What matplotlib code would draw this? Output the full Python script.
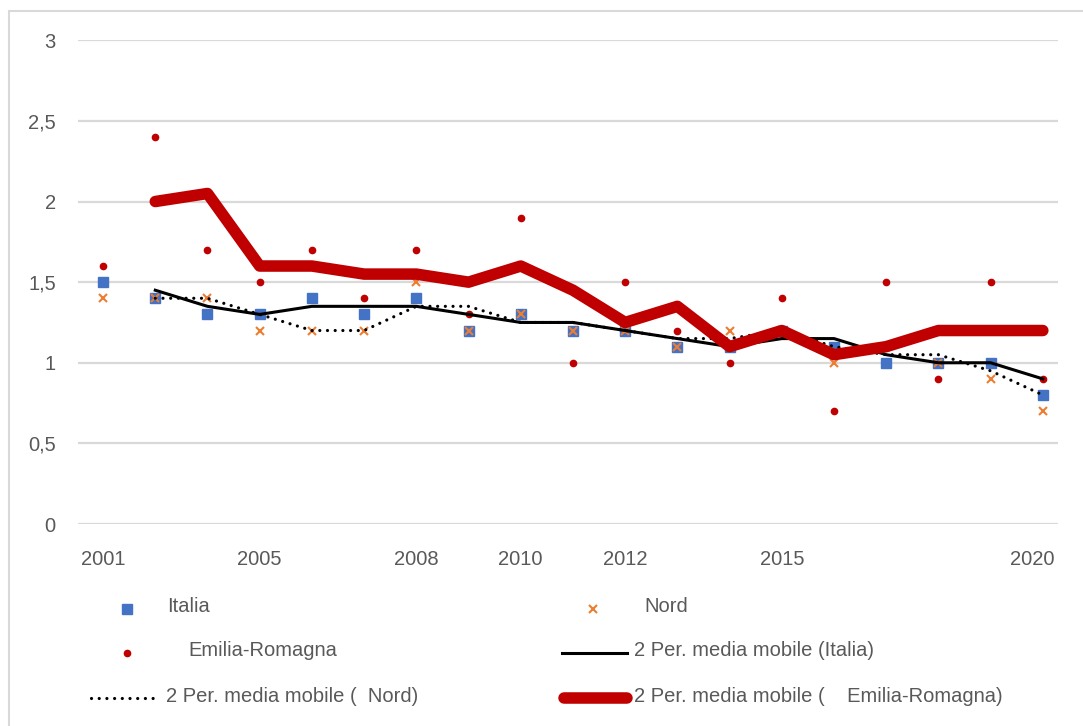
import matplotlib
matplotlib.use("Agg")
import matplotlib.pyplot as plt
from matplotlib.lines import Line2D
from matplotlib.patches import Rectangle
import matplotlib.transforms as mtransforms
import numpy as np

# Category labels along the x axis (one per observation)
year_labels = ["2001", "", "", "2005", "", "", "2008", "", "2010", "",
               "2012", "", "", "2015", "", "", "", "", "2020"]

italia = [1.5, 1.4, 1.3, 1.3, 1.4, 1.3, 1.4, 1.2, 1.3, 1.2,
          1.2, 1.1, 1.1, 1.2, 1.1, 1.0, 1.0, 1.0, 0.8]
nord = [1.4, 1.4, 1.4, 1.2, 1.2, 1.2, 1.5, 1.2, 1.3, 1.2,
        1.2, 1.1, 1.2, 1.2, 1.0, 1.1, 1.0, 0.9, 0.7]
emilia_romagna = [1.6, 2.4, 1.7, 1.5, 1.7, 1.4, 1.7, 1.3, 1.9, 1.0,
                  1.5, 1.2, 1.0, 1.4, 0.7, 1.5, 0.9, 1.5, 0.9]

y_ticks = [0, 0.5, 1, 1.5, 2, 2.5, 3]
y_tick_labels = ["0", "0,5", "1", "1,5", "2", "2,5", "3"]

legend_labels = ["Italia", "Nord", "Emilia-Romagna",
                 "2 Per. media mobile (Italia)",
                 "2 Per. media mobile (  Nord)",
                 "2 Per. media mobile (    Emilia-Romagna)"]

BLUE = "#4472C4"
ORANGE = "#ED7D31"
RED = "#C00000"
GRID = "#D9D9D9"
TEXT = "#595959"
FONT = "Liberation Sans"
FS = 14.5

W, H = 1083, 726
fig = plt.figure(figsize=(W / 100, H / 100), dpi=100)
fig.patch.set_facecolor("white")

def px(x, y):
    return x / W, 1 - y / H

# chart-area border (runs off the right and bottom edges)
fig.patches.append(Rectangle(px(9, 760), (1120 - 9) / W, (760 - 11) / H,
                             transform=fig.transFigure, fill=False,
                             edgecolor="#D9D9D9", linewidth=1.5, zorder=0))

left, right = 78, 1058
top, bottom = 40.3, 524
ax = fig.add_axes([left / W, 1 - bottom / H, (right - left) / W, (bottom - top) / H])
ax.set_facecolor("none")

x = np.arange(len(italia))


def moving_average(values):
    v = np.asarray(values, dtype=float)
    return x[1:], (v[1:] + v[:-1]) / 2


ax.plot(x, italia, linestyle="none", marker="s", markersize=6.5,
        color=BLUE, zorder=3)
ax.plot(x, nord, linestyle="none", marker="x", markersize=6,
        markeredgewidth=1.5, color=ORANGE, zorder=4)
ax.plot(x, emilia_romagna, linestyle="none", marker="o", markersize=4.5,
        color=RED, zorder=5)

mx, my = moving_average(italia)
ax.plot(mx, my, color="black", linewidth=2.2, zorder=6)
mx, my = moving_average(nord)
ax.plot(mx, my, color="black", linewidth=2.3, linestyle=(0, (0.01, 2.4)),
        dash_capstyle="round", zorder=7)
mx, my = moving_average(emilia_romagna)
ax.plot(mx, my, color=RED, linewidth=8.3, solid_capstyle="round",
        solid_joinstyle="round", zorder=8)

ax.set_xlim(-0.48, 18.29)
ax.set_ylim(0, 3)
ax.set_yticks(y_ticks)
ax.set_yticklabels(y_tick_labels)
ax.yaxis.grid(True, color=GRID, linewidth=1.6, zorder=0)
ax.set_axisbelow(True)

tick_pos = [i for i, t in enumerate(year_labels) if t]
ax.set_xticks(tick_pos)
ax.set_xticklabels([year_labels[i] for i in tick_pos])

for s in ax.spines.values():
    s.set_visible(False)
ax.tick_params(axis="both", length=0, labelcolor=TEXT, labelsize=FS)
ax.tick_params(axis="x", pad=19)
ax.tick_params(axis="y", pad=16)
for lab in ax.get_xticklabels() + ax.get_yticklabels():
    lab.set_fontfamily(FONT)

# last year label sits inward from its category position
last = ax.get_xticklabels()[-1]
last.set_transform(last.get_transform() +
                   mtransforms.ScaledTranslation(-11 / 100, 0, fig.dpi_scale_trans))

# legend drawn below the plot area
tr = fig.transFigure
rows = [609, 653, 698]


def ftext(xp, yp, s):
    fig.text(*px(xp, yp), s, fontsize=FS, color=TEXT, fontfamily=FONT,
             ha="left", va="center")


fig.add_artist(Line2D([px(127, 0)[0]], [px(0, rows[0])[1]], marker="s",
                      markersize=6.5, color=BLUE, linestyle="none", transform=tr))
ftext(167, rows[0] - 2, legend_labels[0])
fig.add_artist(Line2D([px(593, 0)[0]], [px(0, rows[0])[1]], marker="x",
                      markersize=6, markeredgewidth=1.5, color=ORANGE,
                      linestyle="none", transform=tr))
ftext(644, rows[0] - 2, legend_labels[1])

fig.add_artist(Line2D([px(127, 0)[0]], [px(0, rows[1])[1]], marker="o",
                      markersize=4.5, color=RED, linestyle="none", transform=tr))
ftext(188, rows[1] - 2, legend_labels[2])
fig.add_artist(Line2D([px(562, 0)[0], px(627, 0)[0]],
                      [px(0, rows[1])[1]] * 2, color="black", linewidth=2.2,
                      transform=tr))
ftext(634, rows[1] - 2, legend_labels[3])

fig.add_artist(Line2D([px(91, 0)[0], px(155, 0)[0]],
                      [px(0, rows[2])[1]] * 2, color="black", linewidth=2.3,
                      linestyle=(0, (0.01, 2.4)), dash_capstyle="round",
                      transform=tr))
ftext(166, rows[2] - 2, legend_labels[4])
fig.add_artist(Line2D([px(564, 0)[0], px(627, 0)[0]],
                      [px(0, rows[2])[1]] * 2, color=RED, linewidth=8.3,
                      solid_capstyle="round", transform=tr))
ftext(634, rows[2] - 2, legend_labels[5])

fig.savefig("out.png", dpi=100, facecolor="white")
